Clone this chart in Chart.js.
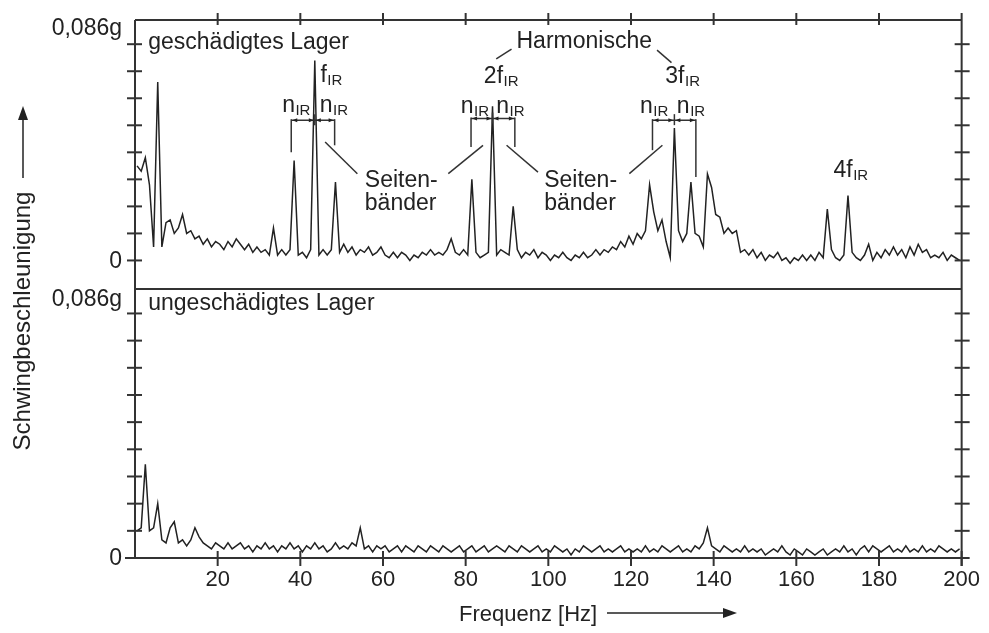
<!DOCTYPE html>
<html>
<head>
<meta charset="utf-8">
<script src="https://cdn.jsdelivr.net/npm/chart.js@4.4.1/dist/chart.umd.min.js"></script>
<style>
  html, body { margin: 0; padding: 0; background: #ffffff; }
  #wrap { width: 989px; height: 633px; position: relative; }
  canvas { display: block; }
</style>
</head>
<body>
<div id="wrap"><canvas id="c" width="989" height="633"></canvas></div>
<script>
// ---------- DATA ----------
// Sampling grid: one spectral line per Hz, centred at k + 0.5 Hz
const freqHz = Array.from({ length: 200 }, (_, k) => k + 0.5);

// Upper panel: damaged bearing ("geschädigtes Lager"), unit 0.001 g
const damagedAccel = [
  35, 33, 38, 28, 5, 66, 5, 14, 15, 10,
  12, 17, 10, 11, 8, 9, 6, 8, 5, 7,
  6, 4, 7, 5, 8, 6, 4, 6, 3, 5,
  3, 4, 2, 12, 2, 4, 2, 4, 37, 2,
  3, 1, 4, 74, 2, 4, 2, 4, 29, 3,
  6, 3, 5, 2, 4, 3, 5, 2, 3, 5,
  2, 1, 3, 1, 3, 2, 0, 2, 1, 3,
  2, 4, 2, 3, 2, 4, 8, 3, 2, 4,
  2, 30, 3, 1, 2, 3, 57, 2, 4, 3,
  2, 20, 4, 1, 3, 2, 4, 1, 3, 2,
  0, 2, 1, 3, 1, 0, 2, 1, 3, 1,
  2, 4, 2, 4, 3, 5, 4, 7, 5, 9,
  6, 10, 8, 11, 28, 18, 11, 15, 7, 1,
  49, 11, 7, 10, 29, 10, 9, 5, 32, 27,
  17, 16, 10, 12, 10, 11, 3, 4, 2, 4,
  1, 3, 0, 2, 1, 3, 0, 1, -1, 1,
  0, 2, 0, 2, 0, 3, 1, 19, 4, 1,
  0, 2, 24, 3, 1, 0, 2, 6, 0, 3,
  1, 4, 2, 5, 2, 4, 1, 5, 2, 6,
  3, 4, 1, 2, 1, 3, 0, 2, 1, 0
];

// Lower panel: intact bearing ("ungeschädigtes Lager"), unit 0.001 g
const intactAccel = [
  9, 10, 31, 9, 10, 18, 6, 5, 10, 12,
  5, 6, 4, 6, 10, 7, 5, 4, 3, 5,
  4, 3, 5, 3, 4, 5, 3, 4, 2, 4,
  3, 5, 3, 4, 2, 4, 3, 5, 3, 4,
  2, 4, 3, 5, 3, 4, 2, 3, 5, 3,
  4, 3, 5, 4, 10, 3, 4, 2, 4, 3,
  4, 2, 3, 4, 2, 4, 3, 2, 4, 3,
  2, 4, 3, 2, 4, 3, 2, 3, 4, 2,
  3, 4, 2, 3, 4, 2, 3, 4, 3, 2,
  4, 3, 2, 4, 3, 2, 3, 4, 2, 3,
  2, 4, 3, 2, 3, 1, 3, 2, 4, 3,
  2, 3, 4, 2, 3, 2, 3, 4, 2, 3,
  2, 3, 2, 4, 2, 3, 2, 4, 3, 2,
  3, 4, 2, 3, 2, 4, 3, 5, 10, 4,
  3, 2, 4, 3, 2, 3, 2, 4, 2, 3,
  2, 3, 1, 2, 3, 2, 4, 2, 1, 3,
  2, 1, 3, 2, 1, 2, 3, 1, 2, 3,
  2, 4, 2, 3, 1, 3, 4, 2, 4, 3,
  2, 3, 4, 2, 3, 2, 4, 2, 3, 2,
  4, 2, 3, 2, 4, 3, 2, 3, 2, 3
];

// Axis ticks and labels
const xTickStep = 20;
const yTickValuesTop = [0, 10, 20, 30, 40, 50, 60, 70, 80];
const yTickValuesBottom = [0, 9, 18, 27, 36, 45, 54, 63, 72, 81];
const yLabelValues = [0, 86];
const yLabelTexts = ['0', '0,086g'];
const panelTitles = ['geschädigtes Lager', 'ungeschädigtes Lager'];
const xTitle = 'Frequenz [Hz]';
const yTitle = 'Schwingbeschleunigung';

// ---------- RENDER ----------
const FONT = '"Liberation Sans", Arial, Helvetica, sans-serif';
const INK = '#222222';
const FRAME = '#333333';
const TXT = 23;

const toPoints = vals => vals.map((v, i) => ({ x: freqHz[i], y: v }));

const overlay = {
  id: 'overlay',
  afterDraw(chart) {
    const { ctx, chartArea: ca, scales } = chart;
    const x = scales.x, yT = scales.yTop, yB = scales.yBot;
    const px = f => x.getPixelForValue(f);
    const pT = v => yT.getPixelForValue(v);
    const pB = v => yB.getPixelForValue(v);
    const L = ca.left, R = ca.right, T = ca.top, B = ca.bottom, M = yB.top;

    ctx.save();
    const seg = (x1, y1, x2, y2) => { ctx.beginPath(); ctx.moveTo(x1, y1); ctx.lineTo(x2, y2); ctx.stroke(); };
    const head = (tx, ty, dx, dy, len, half) => {
      const bx = tx - dx * len, by = ty - dy * len;
      ctx.beginPath();
      ctx.moveTo(tx, ty);
      ctx.lineTo(bx - dy * half, by + dx * half);
      ctx.lineTo(bx + dy * half, by - dx * half);
      ctx.closePath();
      ctx.fill();
    };

    // frame
    ctx.strokeStyle = FRAME;
    ctx.fillStyle = FRAME;
    ctx.lineWidth = 2;
    seg(L, T, R, T);
    seg(L, T, L, B);
    seg(L - 10, B, R, B);
    seg(R, T - 7, R, B + 8);
    seg(L, M, R, M);
    yTickValuesTop.forEach(v => { const p = pT(v); seg(L - 8, p, L + 7, p); seg(R - 7, p, R + 8, p); });
    yTickValuesBottom.forEach(v => { const p = pB(v); seg(L - 8, p, L + 7, p); seg(R - 7, p, R + 8, p); });
    x.ticks.forEach(t => {
      if (t.value <= x.min) return;
      const p = px(t.value);
      seg(p, B - 7, p, B + 8);
      if (t.value < x.max) seg(p, T - 7, p, T + 5);
    });

    // y labels
    ctx.fillStyle = INK;
    ctx.font = `${TXT}px ${FONT}`;
    ctx.textAlign = 'right';
    ctx.textBaseline = 'middle';
    yLabelValues.forEach((v, i) => {
      ctx.fillText(yLabelTexts[i], L - 13, pT(v) + 1);
      ctx.fillText(yLabelTexts[i], L - 13, pB(v) + 1);
    });

    // panel titles
    ctx.textAlign = 'left';
    ctx.textBaseline = 'alphabetic';
    ctx.fillText(panelTitles[0], px(3.2), pT(78.2));
    ctx.fillText(panelTitles[1], px(3.2), pB(82));

    // annotation helpers
    const label = (base, sub, f, v) => {
      const X = px(f), Y = pT(v);
      ctx.font = `${TXT}px ${FONT}`;
      ctx.fillText(base, X, Y);
      const w = ctx.measureText(base).width;
      if (sub) { ctx.font = `15px ${FONT}`; ctx.fillText(sub, X + w + 0.5, Y + 3); }
    };
    const bracket = (fl, fc, fr, vLine, vLeftEnd, vRightEnd) => {
      const y = pT(vLine), xl = px(fl), xc = px(fc), xr = px(fr);
      ctx.lineWidth = 1.5;
      seg(xl, y, xr, y);
      seg(xl, y - 1, xl, pT(vLeftEnd));
      seg(xr, y - 1, xr, pT(vRightEnd));
      seg(xc, y - 6, xc, y + 5);
      head(xl + 1, y, -1, 0, 5, 2);
      head(xc - 1, y, 1, 0, 5, 2);
      head(xc + 1, y, -1, 0, 5, 2);
      head(xr - 1, y, 1, 0, 5, 2);
    };
    const lead = (f1, v1, f2, v2) => { ctx.lineWidth = 1.5; seg(px(f1), pT(v1), px(f2), pT(v2)); };

    ctx.strokeStyle = FRAME;
    ctx.fillStyle = INK;

    // fundamental
    label('f', 'IR', 44.85, 66);
    label('n', 'IR', 35.6, 54.9);
    label('n', 'IR', 44.7, 54.9);
    bracket(37.8, 43.5, 48.3, 51.9, 40, 42.6);

    // 2nd harmonic
    label('2f', 'IR', 84.4, 65.6);
    label('n', 'IR', 78.8, 54.5);
    label('n', 'IR', 87.4, 54.5);
    bracket(81.3, 86.5, 91.9, 52.5, 42, 42);

    // 3rd harmonic
    label('3f', 'IR', 128.3, 65.6);
    label('n', 'IR', 122.2, 54.5);
    label('n', 'IR', 131.1, 54.5);
    bracket(125.2, 130.5, 135.7, 51.9, 40.8, 30.9);

    // 4th harmonic
    label('4f', 'IR', 169.0, 30.9);

    // Harmonische
    label('Harmonische', null, 92.3, 78.6);
    lead(91.1, 78.2, 87.4, 74.6);
    lead(126.3, 77.8, 129.8, 73.2);

    // Seitenbänder
    label('Seiten-', null, 55.6, 27.2);
    label('bänder', null, 55.6, 18.5);
    label('Seiten-', null, 99.0, 27.2);
    label('bänder', null, 99.0, 18.5);
    lead(53.8, 32.1, 46.0, 43.8);
    lead(75.8, 32.1, 84.2, 42.6);
    lead(97.5, 32.7, 89.9, 42.6);
    lead(119.6, 32.1, 127.6, 42.6);

    // axis titles with arrows
    ctx.fillStyle = INK;
    ctx.font = `22px ${FONT}`;
    ctx.textAlign = 'left';
    ctx.textBaseline = 'alphabetic';
    ctx.fillText(xTitle, 459, 621);
    ctx.strokeStyle = INK;
    ctx.lineWidth = 1.5;
    seg(607, 613, 726, 613);
    head(737, 613, 1, 0, 14, 5);

    ctx.save();
    ctx.translate(23, 321);
    ctx.rotate(-Math.PI / 2);
    ctx.textAlign = 'center';
    ctx.textBaseline = 'middle';
    ctx.font = `24px ${FONT}`;
    ctx.fillText(yTitle, 0, 0);
    ctx.restore();
    seg(23, 178, 23, 118);
    head(23, 106, 0, -1, 14, 5);

    ctx.restore();
  }
};

new Chart(document.getElementById('c'), {
  type: 'line',
  data: {
    datasets: [
      { label: panelTitles[1], data: toPoints(intactAccel), yAxisID: 'yBot',
        borderColor: INK, borderWidth: 1.5, pointRadius: 0, tension: 0, fill: false },
      { label: panelTitles[0], data: toPoints(damagedAccel), yAxisID: 'yTop',
        borderColor: INK, borderWidth: 1.5, pointRadius: 0, tension: 0, fill: false }
    ]
  },
  options: {
    responsive: false,
    animation: false,
    devicePixelRatio: 1,
    layout: { padding: { left: 135, right: 26, top: 20, bottom: 30.6 } },
    plugins: { legend: { display: false }, tooltip: { enabled: false }, title: { display: false } },
    scales: {
      x: {
        type: 'linear', min: 0, max: 200, position: 'bottom',
        grid: { display: false, drawTicks: false },
        border: { display: false },
        ticks: {
          stepSize: xTickStep, autoSkip: false, maxRotation: 0, padding: 9,
          color: INK, font: { family: FONT, size: 22 },
          callback: v => (v === 0 ? '' : String(v))
        }
      },
      yBot: {
        type: 'linear', position: 'left', stack: 'panels', stackWeight: 1,
        min: 0, max: 89.1, display: false
      },
      yTop: {
        type: 'linear', position: 'left', stack: 'panels', stackWeight: 1,
        min: -10.56, max: 88.95, display: false
      }
    }
  },
  plugins: [overlay]
});
</script>
</body>
</html>
